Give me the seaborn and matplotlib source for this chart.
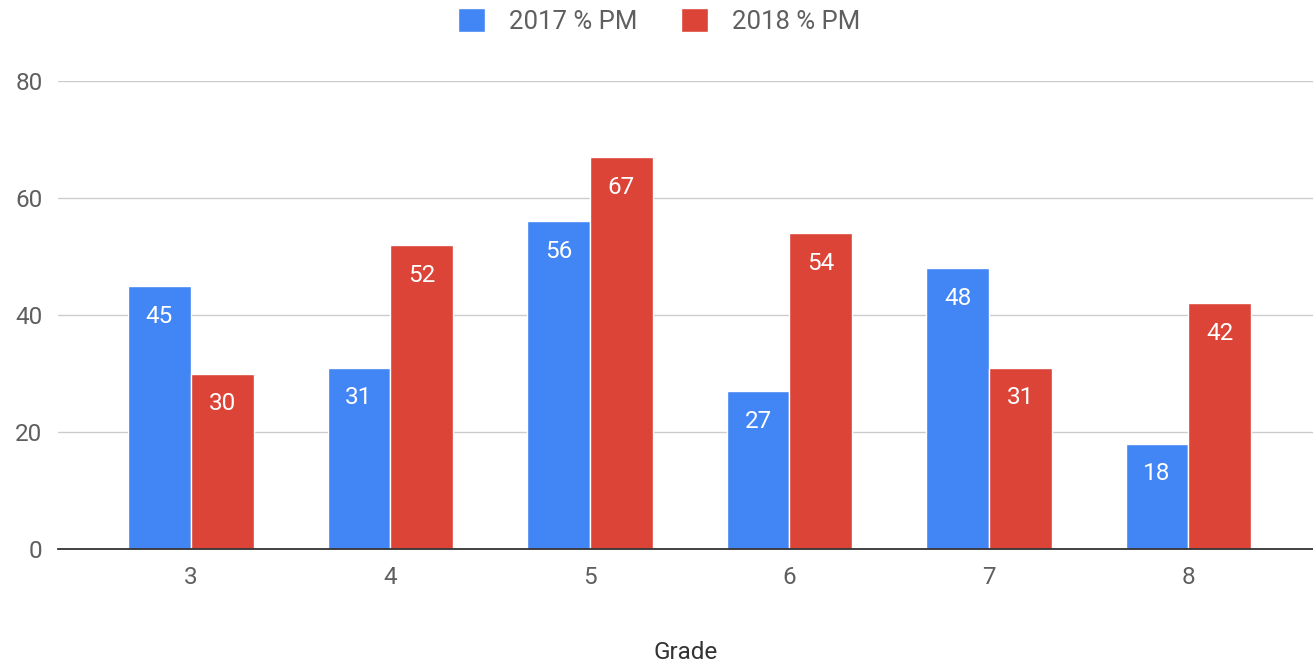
import matplotlib
matplotlib.use("Agg")
import matplotlib.pyplot as plt
import seaborn as sns
import pandas as pd

grades = ["3", "4", "5", "6", "7", "8"]
pm_2017 = [45, 31, 56, 27, 48, 18]
pm_2018 = [30, 52, 67, 54, 31, 42]
series_names = ["2017 % PM", "2018 % PM"]
colors = ["#4285F4", "#DB4437"]

df = pd.DataFrame({
    "Grade": grades * 2,
    "value": pm_2017 + pm_2018,
    "series": [series_names[0]] * len(grades) + [series_names[1]] * len(grades),
})

sns.set_theme(style="white")
plt.rcParams['font.family'] = ['Roboto', 'DejaVu Sans']

FS = 17.5

fig = plt.figure(figsize=(13.13, 6.65), dpi=100)
ax = fig.add_axes([0.044, 0.1744, 0.956, 0.7036])

sns.barplot(data=df, x="Grade", y="value", hue="series", palette=colors,
            width=0.63, dodge=True, ax=ax, edgecolor="white", linewidth=1,
            saturation=1, legend=True)

for cont in ax.containers:
    ax.bar_label(cont, padding=-30, color="white", fontsize=FS)

ax.set_xlim(-0.667, 5.624)
ax.set_ylim(0, 80)
ax.set_yticks([0, 20, 40, 60, 80])
ax.yaxis.grid(True, color="#cccccc", linewidth=1)
ax.set_axisbelow(True)
for s in ["top", "right", "left"]:
    ax.spines[s].set_visible(False)
ax.spines["bottom"].set_color("#333333")
ax.spines["bottom"].set_linewidth(1.3)
ax.tick_params(axis="both", length=0, labelsize=FS, labelcolor="#5f5f5f")
ax.tick_params(axis="y", pad=11)
ax.tick_params(axis="x", pad=12)
ax.set_ylabel("")
ax.set_xlabel("Grade", fontsize=FS, color="#333333", labelpad=38)

ax.get_legend().remove()
handles, labels = ax.get_legend_handles_labels()
fig.legend(handles, labels, loc="center", bbox_to_anchor=(0.502, 0.968), ncol=2,
           frameon=False, fontsize=18.5, handlelength=1.05, handleheight=1.05,
           columnspacing=1.7, handletextpad=0.95, labelcolor="#5f5f5f")

fig.savefig("out.png", dpi=100)
